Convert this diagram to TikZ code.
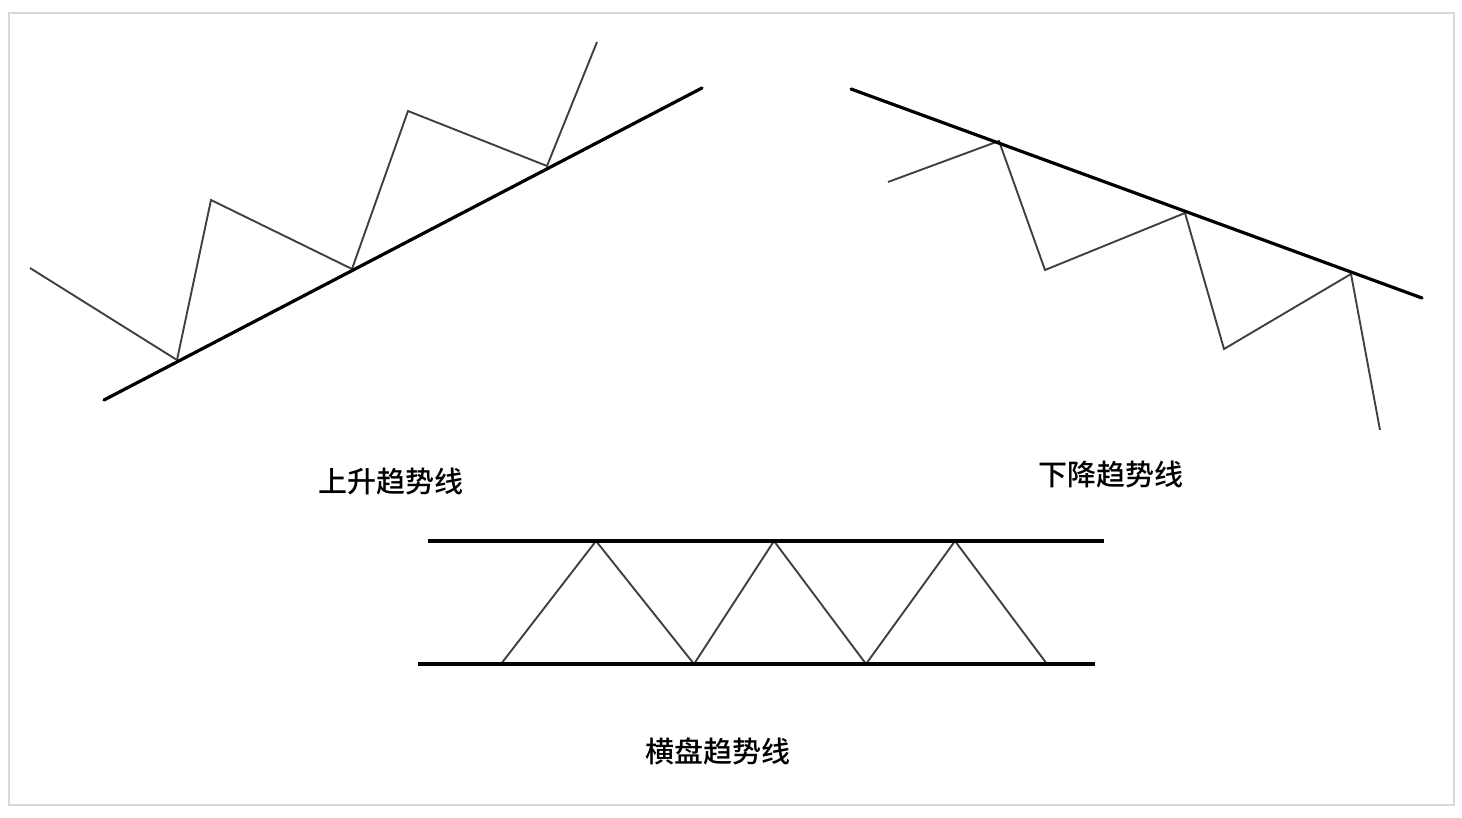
\documentclass[tikz,border=0pt]{standalone}
\usepackage{fontspec}
\newfontfamily\cjk{Noto Sans CJK SC}[BoldFont={Noto Sans CJK SC Medium}]
\usetikzlibrary{positioning}

\begin{document}
\begin{tikzpicture}[x=1pt, y=-1pt,
    trend/.style={line width=3.2pt, line cap=round},
    wave/.style={line width=1.9pt, draw=black!75, line join=miter},
    caption/.style={font=\cjk\bfseries\fontsize{29}{34}\selectfont, inner sep=0pt}]

  \useasboundingbox (0,0) rectangle (1462,818);
  \draw[black!15, line width=2pt] (9,13) rectangle (1454,805);

  % rising trend
  \coordinate (ua) at (104,400);
  \coordinate (ub) at (702,88);
  \foreach \n/\p in {0/{30,268}, 1/{177,360}, 2/{211,200}, 3/{352,269},
                     4/{408,111}, 5/{547,166}, 6/{597,42}}
    \coordinate (u\n) at (\p);
  \draw[wave] (u0) -- (u1) -- (u2) -- (u3) -- (u4) -- (u5) -- (u6);
  \draw[trend] (ua) -- (ub);
  \node[caption] (uplabel) at (391,481) {上升趋势线};

  % falling trend
  \coordinate (da) at (851,89);
  \coordinate (db) at (1422,298);
  \foreach \n/\p in {0/{888,182}, 1/{999,141}, 2/{1045,270}, 3/{1185,213},
                     4/{1224,349}, 5/{1351,274}, 6/{1380,430}}
    \coordinate (d\n) at (\p);
  \draw[wave] (d0) -- (d1) -- (d2) -- (d3) -- (d4) -- (d5) -- (d6);
  \draw[trend] (da) -- (db);
  \node[caption] (downlabel) at (1111,474) {下降趋势线};

  % sideways trend
  \coordinate (ta) at (428,541);
  \coordinate (tb) at (1104,541);
  \coordinate (ba) at (418,664);
  \coordinate (bb) at (1095,664);
  \foreach \n/\p in {0/{501,664}, 1/{596,541}, 2/{694,664}, 3/{774,541},
                     4/{866,664}, 5/{955,541}, 6/{1047,664}}
    \coordinate (h\n) at (\p);
  \draw[wave] (h0) -- (h1) -- (h2) -- (h3) -- (h4) -- (h5) -- (h6);
  \draw[trend, line cap=butt] (ta) -- (tb);
  \draw[trend, line cap=butt] (ba) -- (bb);
  \node[caption] (flatlabel) at (718,751) {横盘趋势线};

\end{tikzpicture}
\end{document}
